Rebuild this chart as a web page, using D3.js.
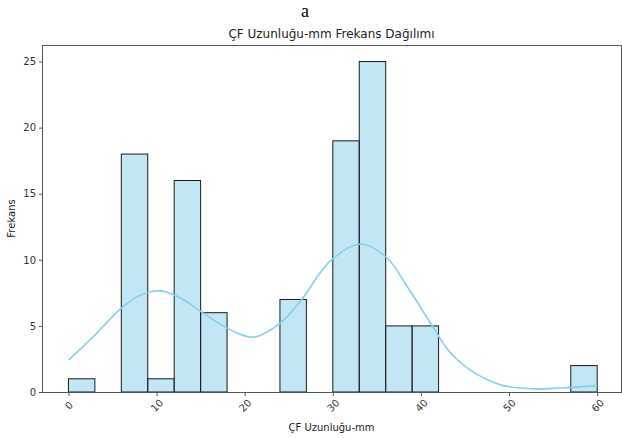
<!DOCTYPE html>
<html>
<head>
<meta charset="utf-8">
<script src="https://cdn.jsdelivr.net/npm/d3@7"></script>
<style>
  body { margin: 0; background: #fff; }
  svg { display: block; }
</style>
</head>
<body>
<svg id="chart" width="622" height="438" font-family="DejaVu Sans, sans-serif"></svg>
<script>
// Histogram bins (width 3, from 0 to 60) and counts
const binEdges = [0,3,6,9,12,15,18,21,24,27,30,33,36,39,42,45,48,51,54,57,60];
const binCounts = [1,0,18,1,16,6,0,0,7,0,19,25,5,5,0,0,0,0,0,2];
// KDE curve
const kdeX = [0,3,6,8,10.5,13,15,18.4,21,24,26.3,29.7,33.1,36,38.8,41.1,43.3,45.6,49,52.4,55.8,60];
const kdeY = [2.4,4.3,6.35,7.27,7.65,7.0,6.1,4.7,4.15,5.2,6.85,9.9,11.2,10.25,7.6,5.2,3.0,1.65,0.55,0.25,0.3,0.48];
const xTicks = [0,10,20,30,40,50,60];
const yTicks = [0,5,10,15,20,25];

const svg = d3.select("#chart");
const L = 42, R = 621, T = 45, B = 392;
const x = d3.scaleLinear().domain([-3, 62.7]).range([L, R]);
const y = d3.scaleLinear().domain([0, 26.25]).range([B, T]);

// bars
const bins = binCounts.map((c, i) => ({x0: binEdges[i], x1: binEdges[i+1], c}))
  .filter(d => d.c > 0);
svg.append("g").selectAll("rect").data(bins).join("rect")
  .attr("x", d => x(d.x0))
  .attr("y", d => y(d.c))
  .attr("width", d => x(d.x1) - x(d.x0))
  .attr("height", d => y(0) - y(d.c))
  .attr("fill", "#87ceeb").attr("fill-opacity", 0.5)
  .attr("stroke", "#1a1a1a").attr("stroke-width", 1);

// KDE line
const pts = kdeX.map((v, i) => [v, kdeY[i]]);
svg.append("path").datum(pts)
  .attr("d", d3.line().x(d => x(d[0])).y(d => y(d[1])).curve(d3.curveCatmullRom))
  .attr("fill", "none").attr("stroke", "#87ceeb").attr("stroke-width", 1.6);

// spines
const sp = svg.append("g").attr("stroke", "#555").attr("stroke-width", 1).attr("fill", "none");
sp.append("rect").attr("x", L + 0.5).attr("y", T + 0.5).attr("width", R - L).attr("height", B - T);

// y axis
const gy = svg.append("g").attr("transform", `translate(${L + 0.5},0)`)
  .call(d3.axisLeft(y).tickValues(yTicks).tickSize(3.5).tickPadding(3));
gy.select(".domain").remove();
gy.selectAll("line").attr("stroke", "#555");
gy.selectAll("text").attr("font-size", 10).attr("fill", "#333")
  .attr("font-family", "DejaVu Sans, sans-serif");

// x axis
const gx = svg.append("g").attr("transform", `translate(0,${B + 0.5})`)
  .call(d3.axisBottom(x).tickValues(xTicks).tickSize(3.5).tickFormat(d3.format("d")));
gx.select(".domain").remove();
gx.selectAll("line").attr("stroke", "#555");
gx.selectAll("text")
  .attr("font-size", 10).attr("fill", "#333")
  .attr("font-family", "DejaVu Sans, sans-serif")
  .attr("y", 0).attr("dy", "0.35em")
  .attr("text-anchor", "middle")
  .attr("transform", "translate(0,13) rotate(-45)");

// titles
svg.append("text").attr("x", 305).attr("y", 17).attr("text-anchor", "middle")
  .style("font-family", "'Liberation Serif', serif").attr("font-size", 18).attr("fill", "#000").text("a");
svg.append("text").attr("x", (L + R) / 2).attr("y", 38).attr("text-anchor", "middle")
  .attr("font-size", 12).attr("fill", "#222").text("ÇF Uzunluğu-mm Frekans Dağılımı");
svg.append("text").attr("x", (L + R) / 2).attr("y", 431).attr("text-anchor", "middle")
  .attr("font-size", 10).attr("fill", "#222").text("ÇF Uzunluğu-mm");
svg.append("text").attr("transform", `translate(15,${(T + B) / 2}) rotate(-90)`)
  .attr("text-anchor", "middle").attr("font-size", 10).attr("fill", "#222").text("Frekans");
</script>
</body>
</html>
